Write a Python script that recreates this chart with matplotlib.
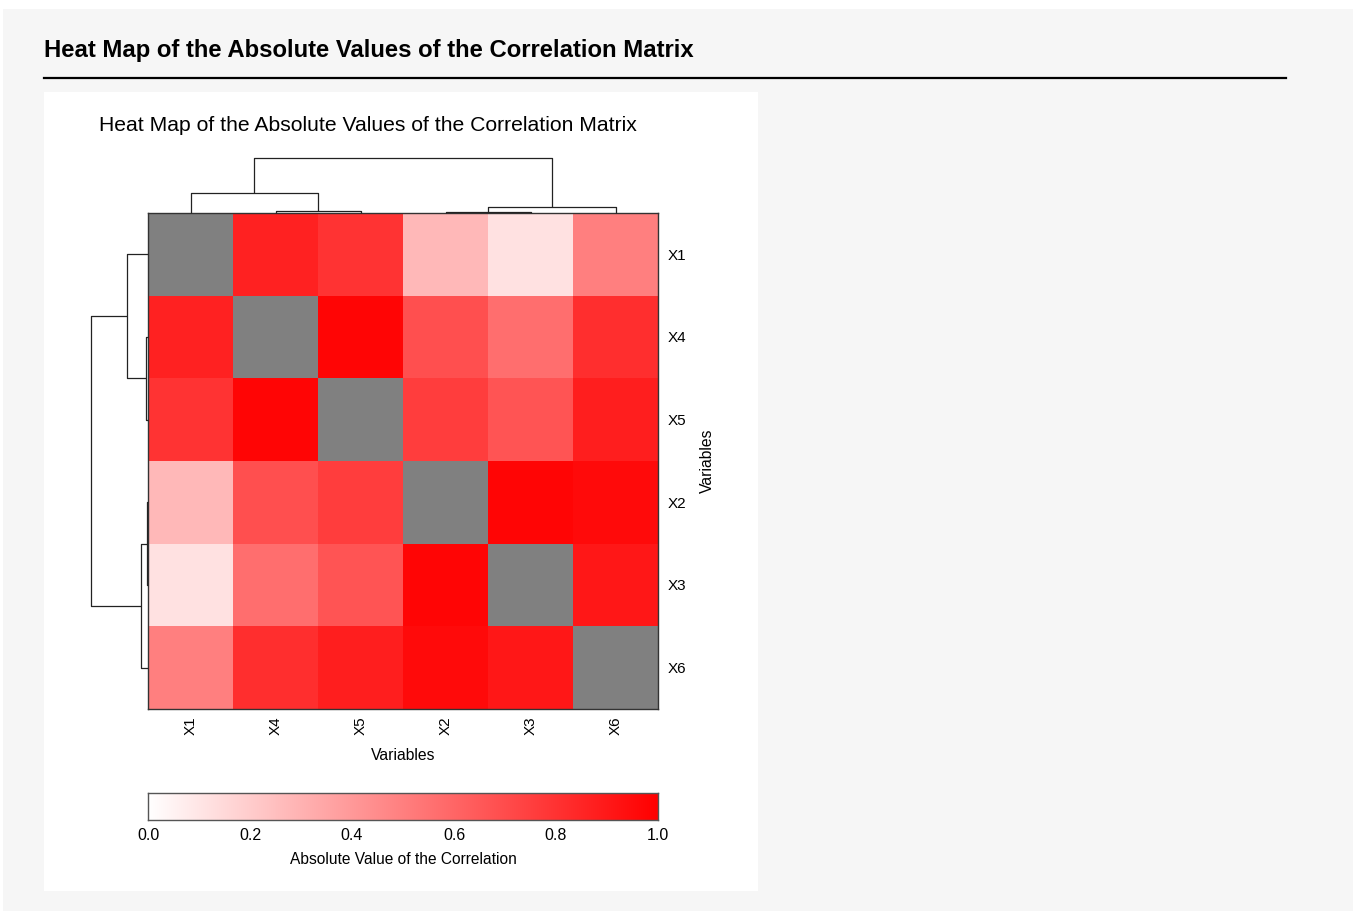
import numpy as np
import matplotlib
matplotlib.use('Agg')
import matplotlib.pyplot as plt
from matplotlib.colors import LinearSegmentedColormap
from matplotlib.patches import Rectangle

plt.rcParams['font.family'] = ['Liberation Sans', 'DejaVu Sans']

# variables in clustered (display) order
labels = ['X1', 'X4', 'X5', 'X2', 'X3', 'X6']

# |r| between variables (diagonal left blank)
abs_corr = np.array([
    [np.nan, 0.87, 0.80, 0.28, 0.12, 0.50],
    [0.87, np.nan, 0.98, 0.69, 0.57, 0.82],
    [0.80, 0.98, np.nan, 0.76, 0.67, 0.88],
    [0.28, 0.69, 0.76, np.nan, 0.98, 0.96],
    [0.12, 0.57, 0.67, 0.98, np.nan, 0.91],
    [0.50, 0.82, 0.88, 0.96, 0.91, np.nan],
])

# dendrogram merges: (node a, node b, relative height); leaves are 0..5,
# each merge creates node 6, 7, ...
merges = [
    (1, 2, 0.035),
    (3, 4, 0.018),
    (7, 5, 0.115),
    (0, 6, 0.37),
    (9, 8, 1.0),
]

cbar_ticks = [0.0, 0.2, 0.4, 0.6, 0.8, 1.0]

W, H = 1353, 911
fig = plt.figure(figsize=(W / 100, H / 100), dpi=100, facecolor='white')


def fx(px):
    return px / W


def fy(py):
    return 1 - py / H


# page background, white panel, heading
fig.patches.append(Rectangle((fx(3), 0), 1 - fx(3), fy(9), transform=fig.transFigure,
                             facecolor='#f6f6f6', edgecolor='none', zorder=-3))
fig.patches.append(Rectangle((fx(44), fy(891)), fx(758) - fx(44), fy(92) - fy(891),
                             transform=fig.transFigure, facecolor='white',
                             edgecolor='none', zorder=-2))
fig.text(fx(44), fy(51), 'Heat Map of the Absolute Values of the Correlation Matrix',
         fontsize=17.2, fontweight='bold', ha='left', va='center')
fig.add_artist(plt.Line2D([fx(44), fx(1286)], [fy(78), fy(78)], color='black', lw=1.6))
fig.text(fx(368), fy(125.3), 'Heat Map of the Absolute Values of the Correlation Matrix',
         fontsize=15.2, ha='center', va='center')

cmap = LinearSegmentedColormap.from_list('wr', ['#ffffff', '#ff0000'])
cmap.set_bad('#808080')

n = len(labels)
# heat map
ax = fig.add_axes([fx(148), fy(709), fx(658) - fx(148), fy(213) - fy(709)])
ax.pcolormesh(np.arange(n + 1), np.arange(n + 1), np.ma.masked_invalid(abs_corr),
              cmap=cmap, vmin=0, vmax=1)
ax.set_xlim(0, n)
ax.set_ylim(n, 0)
ax.set_xticks(np.arange(n) + 0.5)
ax.set_xticklabels(labels, rotation=90, fontsize=11)
ax.set_yticks(np.arange(n) + 0.5)
ax.set_yticklabels(labels, fontsize=11)
ax.yaxis.tick_right()
ax.yaxis.set_label_position('right')
ax.tick_params(axis='x', length=0, pad=5)
ax.tick_params(axis='y', length=0, pad=7)
ax.set_xlabel('Variables', fontsize=11.3, labelpad=10)
ax.set_ylabel('Variables', fontsize=11.3, labelpad=10)
for s in ax.spines.values():
    s.set_color('#333333')
    s.set_linewidth(1)


def dendro_segments(merges, n):
    pos = {i: i + 0.5 for i in range(n)}
    hgt = {i: 0.0 for i in range(n)}
    segs = []
    for k, (a, b, h) in enumerate(merges):
        segs.append(([pos[a], pos[a], pos[b], pos[b]], [hgt[a], h, h, hgt[b]]))
        pos[n + k] = (pos[a] + pos[b]) / 2
        hgt[n + k] = h
    return segs


segs = dendro_segments(merges, n)

# column dendrogram (top)
axt = fig.add_axes([fx(148), fy(213), fx(658) - fx(148), fy(158) - fy(213)])
for xs, ys in segs:
    axt.plot(xs, ys, color='#222222', lw=0.9, clip_on=False, solid_capstyle='butt')
axt.set_xlim(0, n)
axt.set_ylim(0, 1.0)
axt.axis('off')

# row dendrogram (left)
axl = fig.add_axes([fx(91), fy(709), fx(148) - fx(91), fy(213) - fy(709)])
for xs, ys in segs:
    axl.plot(ys, xs, color='#222222', lw=0.9, clip_on=False, solid_capstyle='butt')
axl.set_ylim(n, 0)
axl.set_xlim(1.0, 0)
axl.axis('off')

# colour bar
axc = fig.add_axes([fx(148), fy(820), fx(658) - fx(148), fy(793) - fy(820)])
grad = np.linspace(0, 1, 256)
axc.imshow(grad[np.newaxis, :], aspect='auto', cmap=cmap, vmin=0, vmax=1,
           extent=[0, 1, 0, 1])
axc.set_xlim(0, 1)
axc.set_yticks([])
axc.set_xticks(cbar_ticks)
axc.set_xticklabels([f'{t:.1f}' for t in cbar_ticks], fontsize=11.5)
axc.tick_params(length=0, pad=6)
axc.set_xlabel('Absolute Value of the Correlation', fontsize=11.2, labelpad=6)
for s in axc.spines.values():
    s.set_color('#555555')
    s.set_linewidth(1)

fig.savefig('out.png', dpi=100, facecolor=fig.get_facecolor())
